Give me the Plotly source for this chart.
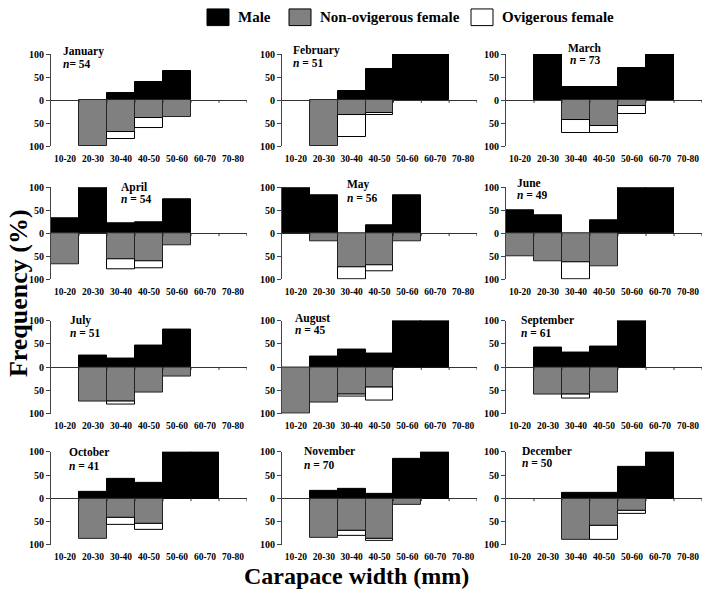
import plotly.graph_objects as go
from plotly.subplots import make_subplots

size_classes = ["10-20", "20-30", "30-40", "40-50", "50-60", "60-70", "70-80"]
months = ["January", "February", "March", "April", "May", "June",
          "July", "August", "September", "October", "November", "December"]
n_values = [54, 51, 73, 54, 56, 49, 51, 45, 61, 41, 70, 50]

male = {
    "January":   [0, 0, 15, 40, 63, 0, 0],
    "February":  [0, 0, 20, 67, 100, 100, 0],
    "March":     [0, 100, 28, 28, 70, 100, 0],
    "April":     [33, 100, 22, 25, 75, 0, 0],
    "May":       [100, 82, 0, 18, 82, 0, 0],
    "June":      [50, 40, 0, 28, 100, 100, 0],
    "July":      [0, 25, 19, 46, 80, 0, 0],
    "August":    [0, 23, 37, 29, 100, 100, 0],
    "September": [0, 41, 32, 45, 100, 0, 0],
    "October":   [0, 14, 43, 33, 100, 100, 0],
    "November":  [0, 16, 20, 9, 86, 100, 0],
    "December":  [0, 0, 12, 12, 67, 100, 0],
}
non_ovigerous = {
    "January":   [0, 100, 70, 38, 37, 0, 0],
    "February":  [0, 100, 33, 28, 0, 0, 0],
    "March":     [0, 0, 43, 57, 12, 0, 0],
    "April":     [67, 0, 57, 60, 25, 0, 0],
    "May":       [0, 18, 73, 70, 18, 0, 0],
    "June":      [50, 60, 63, 72, 0, 0, 0],
    "July":      [0, 75, 73, 54, 20, 0, 0],
    "August":    [100, 77, 58, 43, 0, 0, 0],
    "September": [0, 59, 60, 55, 0, 0, 0],
    "October":   [0, 86, 42, 55, 0, 0, 0],
    "November":  [0, 84, 69, 86, 14, 0, 0],
    "December":  [0, 0, 88, 58, 27, 0, 0],
}
ovigerous = {
    "January":   [0, 0, 15, 22, 0, 0, 0],
    "February":  [0, 0, 47, 5, 0, 0, 0],
    "March":     [0, 0, 29, 15, 18, 0, 0],
    "April":     [0, 0, 21, 15, 0, 0, 0],
    "May":       [0, 0, 27, 12, 0, 0, 0],
    "June":      [0, 0, 37, 0, 0, 0, 0],
    "July":      [0, 0, 8, 0, 0, 0, 0],
    "August":    [0, 0, 5, 28, 0, 0, 0],
    "September": [0, 0, 8, 0, 0, 0, 0],
    "October":   [0, 0, 15, 12, 0, 0, 0],
    "November":  [0, 0, 11, 5, 0, 0, 0],
    "December":  [0, 0, 0, 30, 6, 0, 0],
}
ytick_vals = [-100, -50, 0, 50, 100]
ytick_text = ["100", "50", "0", "50", "100"]

W, H = 709, 598
FONT = "Liberation Serif, Times New Roman, serif"

col_px = [(51, 247), (282, 477), (506, 702)]
row_px = [(49, 143), (185, 279), (321, 416), (455, 550)]
label_pos = [  # (x px, y px of month, y px of n, xanchor)
    (61, 46, 59, "left"), (291, 45, 58, "left"), (585, 43, 55, "center"),
    (119, 185, 197, "left"), (345, 182, 196, "left"), (515, 181, 193, "left"),
    (68, 321, 334, "left"), (293, 319, 331, "left"), (519, 321, 334, "left"),
    (67, 455, 469, "left"), (302, 454, 468, "left"), (520, 454, 466, "left"),
]

fig = make_subplots(rows=4, cols=3)

def nz(v, sign=1):
    return [sign * x if x else None for x in v]

shapes = []
annotations = []
for k, m in enumerate(months):
    r, c = k // 3 + 1, k % 3 + 1
    fig.add_trace(go.Bar(x=size_classes, y=nz(male[m]), width=1,
                         marker=dict(color="black", line=dict(color="black", width=1)),
                         showlegend=False), row=r, col=c)
    fig.add_trace(go.Bar(x=size_classes, y=nz(non_ovigerous[m], -1), width=1,
                         marker=dict(color="#808080", line=dict(color="#222222", width=1)),
                         showlegend=False), row=r, col=c)
    fig.add_trace(go.Bar(x=size_classes, y=nz(ovigerous[m], -1), width=1,
                         marker=dict(color="white", line=dict(color="black", width=1)),
                         showlegend=False), row=r, col=c)
    x0, x1 = col_px[c - 1]
    y0, y1 = row_px[r - 1]
    xa = "xaxis" if k == 0 else f"xaxis{k+1}"
    ya = "yaxis" if k == 0 else f"yaxis{k+1}"
    fig.layout[xa].update(domain=[x0 / W, x1 / W], range=[-0.5, 6.5],
                          showline=False, showgrid=False, zeroline=False,
                          ticks="outside", ticklen=3, tickcolor="rgba(0,0,0,0)",
                          tickfont=dict(family=FONT, size=9.5, color="black", weight="bold"))
    fig.layout[ya].update(domain=[1 - y1 / H, 1 - y0 / H], range=[-100, 100],
                          tickvals=ytick_vals, ticktext=ytick_text,
                          showline=True, linecolor="#444444", linewidth=1,
                          ticks="outside", ticklen=4, tickcolor="#444444",
                          showgrid=False, zeroline=True, zerolinecolor="#333333",
                          zerolinewidth=1,
                          tickfont=dict(family=FONT, size=10, color="black", weight="bold"))
    xr = "x" if k == 0 else f"x{k+1}"
    yr = "y" if k == 0 else f"y{k+1}"
    for i in range(1, len(size_classes) + 1):
        shapes.append(dict(type="line", xref=xr, yref=yr, x0=i - 0.5, x1=i - 0.5,
                           y0=0, y1=-6, line=dict(color="#333333", width=1)))
    lx, ly1, ly2, anc = label_pos[k]
    annotations.append(dict(xref="paper", yref="paper", x=lx / W, y=1 - ly1 / H,
                            xanchor=anc, yanchor="middle", showarrow=False,
                            text=f"<b>{m}</b>",
                            font=dict(family=FONT, size=11.5, color="black")))
    eq = "=" if k == 0 else " ="
    annotations.append(dict(xref="paper", yref="paper", x=lx / W, y=1 - ly2 / H,
                            xanchor=anc, yanchor="middle", showarrow=False,
                            text=f"<b><i>n</i>{eq} {n_values[k]}</b>",
                            font=dict(family=FONT, size=11.5, color="black")))

# Legend (custom)
legend_items = [("Male", "black", 207, 236), ("Non-ovigerous female", "#808080", 289, 318),
                ("Ovigerous female", "white", 471, 500)]
for name, col, bx, tx in legend_items:
    shapes.append(dict(type="rect", xref="paper", yref="paper",
                       x0=bx / W, x1=(bx + 22) / W, y0=1 - 20 / H, y1=1 - 3 / H,
                       fillcolor=col, line=dict(color="black", width=1)))
    annotations.append(dict(xref="paper", yref="paper", x=tx / W, y=1 - 11.5 / H,
                            xanchor="left", yanchor="middle", showarrow=False,
                            text=f"<b>{name}</b>",
                            font=dict(family=FONT, size=15, color="black")))

annotations.append(dict(xref="paper", yref="paper", x=18 / W, y=1 - 293 / H,
                        xanchor="center", yanchor="middle", showarrow=False, textangle=-90,
                        text="<b>Frequency (%)</b>",
                        font=dict(family=FONT, size=26, color="black")))
annotations.append(dict(xref="paper", yref="paper", x=356 / W, y=1 - 582 / H,
                        xanchor="center", yanchor="middle", showarrow=False,
                        text="<b>Carapace width (mm)</b>",
                        font=dict(family=FONT, size=24, color="black")))

fig.update_layout(width=W, height=H, margin=dict(l=0, r=0, t=0, b=0),
                  barmode="relative", bargap=0, paper_bgcolor="white",
                  plot_bgcolor="white", showlegend=False,
                  shapes=shapes, annotations=annotations)

post = (
    "document.documentElement.style.margin='0';"
    "document.documentElement.style.padding='0';"
    "document.documentElement.style.overflow='hidden';"
    "document.body.style.margin='0';"
    "document.body.style.padding='0';"
    "document.body.style.overflow='hidden';"
    "var d=document.getElementById('{plot_id}');"
    "d.style.position='fixed';d.style.top='0px';d.style.left='0px';"
)
fig.write_html("out.html", config={"displayModeBar": False}, post_script=post)
